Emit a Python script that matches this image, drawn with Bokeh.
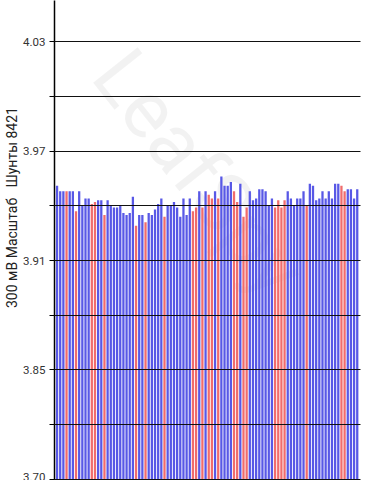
import math
from bokeh.plotting import figure
from bokeh.models import FixedTicker, Label, Range1d, ColumnDataSource, Title
from bokeh.embed import file_html
from bokeh.resources import INLINE

# Cell voltages (V), 96 cell pairs
cell_voltages = [
    3.951, 3.948, 3.948, 3.948, 3.948, 3.948, 3.937, 3.948, 3.940, 3.944,
    3.944, 3.941, 3.942, 3.943, 3.943, 3.935, 3.943, 3.940, 3.939, 3.939,
    3.940, 3.936, 3.935, 3.936, 3.945, 3.929, 3.935, 3.935, 3.931, 3.936,
    3.935, 3.938, 3.941, 3.944, 3.934, 3.940, 3.940, 3.942, 3.939, 3.934,
    3.944, 3.935, 3.944, 3.937, 3.939, 3.948, 3.939, 3.948, 3.946, 3.944,
    3.948, 3.944, 3.956, 3.951, 3.951, 3.953, 3.948, 3.942, 3.952, 3.934,
    3.939, 3.948, 3.943, 3.944, 3.949, 3.949, 3.948, 3.940, 3.944, 3.939,
    3.943, 3.939, 3.943, 3.948, 3.944, 3.940, 3.944, 3.944, 3.948, 3.940,
    3.952, 3.951, 3.943, 3.944, 3.948, 3.944, 3.948, 3.944, 3.952, 3.952,
    3.951, 3.948, 3.949, 3.949, 3.944, 3.949,
]
# 1 = red bar, 0 = blue bar
red_flags = [
    0, 0, 0, 1, 0, 0, 1, 0, 0, 0,
    0, 1, 1, 0, 0, 1, 0, 0, 0, 0,
    0, 0, 0, 0, 0, 1, 0, 0, 1, 0,
    0, 0, 0, 0, 1, 0, 0, 0, 0, 0,
    0, 0, 0, 1, 1, 0, 1, 0, 1, 1,
    0, 1, 0, 0, 0, 0, 1, 1, 0, 1,
    1, 0, 0, 0, 0, 0, 0, 0, 0, 1,
    1, 1, 1, 0, 0, 0, 0, 0, 0, 1,
    0, 0, 0, 0, 0, 0, 0, 0, 0, 0,
    1, 1, 0, 0, 0, 0,
]
tick_values = [4.03, 4.00, 3.97, 3.94, 3.91, 3.88, 3.85, 3.82, 3.79]
tick_labels = ["4.03", "", "3.97", "", "3.91", "", "3.85", "", "3.70"]
axis_title = "300 мВ Масштаб\u00a0\u00a0\u00a0Шунты 8421"
watermark = "LeafSpy"

BLUE = "#5858e6"
RED = "#f06c6c"

src = ColumnDataSource(dict(
    x=list(range(len(cell_voltages))),
    top=cell_voltages,
    color=[RED if f else BLUE for f in red_flags],
))

p = figure(width=369, height=480, output_backend="svg", toolbar_location=None,
           x_range=Range1d(-0.81, 96.03), y_range=Range1d(3.78945, 4.05247),
           x_axis_location=None,
           min_border_left=52, min_border_right=9, min_border_top=0, min_border_bottom=0)
p.background_fill_color = "white"
p.border_fill_color = "white"
p.outline_line_color = None

wm = Label(x=45, y=3.958, text=watermark, angle=-0.9, text_font="Roboto",
           text_font_size="80px", text_color="#000000", text_alpha=0.05,
           text_align="center", text_baseline="middle", level="underlay")
p.add_layout(wm)

p.vbar(x="x", top="top", bottom=3.75, width=0.72, fill_color="color",
       line_color=None, source=src)

ticker = FixedTicker(ticks=tick_values)
p.yaxis.ticker = ticker
p.yaxis.major_label_overrides = {v: l for v, l in zip(tick_values, tick_labels)}
p.yaxis.major_label_text_font = "Roboto"
p.yaxis.major_label_text_font_size = "11.5px"
p.yaxis.major_label_text_color = "#333333"
p.yaxis.major_label_standoff = 4
p.yaxis.major_tick_out = 5
p.yaxis.major_tick_in = 0
p.yaxis.minor_tick_line_color = None
p.yaxis.axis_line_color = "black"
p.yaxis.axis_line_width = 1.5
p.yaxis.major_tick_line_color = "black"

p.xgrid.visible = False
p.ygrid.ticker = ticker
p.ygrid.grid_line_color = "#111111"
p.ygrid.grid_line_width = 1
p.ygrid.level = "overlay"

# leading no-break spaces shift the vertical title upward (it is centred on the frame)
title = Title(text="\u00a0" * 19 + axis_title, align="center", text_font="Roboto",
              text_font_size="14px", text_font_style="normal", text_color="#222222",
              standoff=2)
p.add_layout(title, "left")

open("out.html", "w").write(file_html(p, INLINE))
